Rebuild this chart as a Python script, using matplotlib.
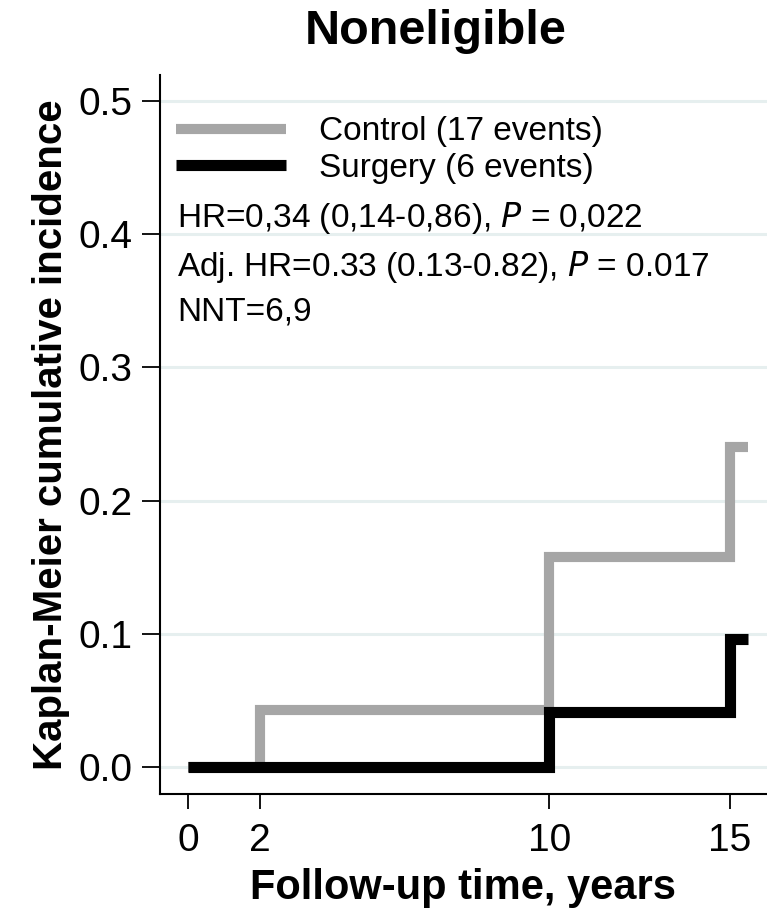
import numpy as np
import matplotlib
matplotlib.use("Agg")
import matplotlib.pyplot as plt

plt.rcParams['font.family'] = ['Liberation Sans', 'DejaVu Sans']

# step curves (time in years, cumulative incidence)
control_t = [0, 2, 10, 15, 15.5]
control_y = [0.0, 0.043, 0.158, 0.240, 0.240]
surgery_t = [0, 10, 15, 15.5]
surgery_y = [0.0, 0.041, 0.096, 0.096]

labels = ['Control (17 events)', 'Surgery (6 events)']
colors = ['#a6a6a6', '#000000']
xticks = [0, 2, 10, 15]
yticks = [0.0, 0.1, 0.2, 0.3, 0.4, 0.5]
stats = ['HR=0,34 (0,14-0,86), $\\it{P}$ = 0,022',
         'Adj. HR=0.33 (0.13-0.82), $\\it{P}$ = 0.017',
         'NNT=6,9']

fig = plt.figure(figsize=(7.67, 9.13), dpi=100)
ax = fig.add_axes([160 / 767, 1 - 794 / 913, 1 - 160 / 767, (794 - 75) / 913])

# light gridlines
for y in yticks:
    ax.axhline(y, color='#e6efef', lw=2.2, zorder=0)

ax.step(control_t, control_y, where='post', color=colors[0], lw=7.3,
        solid_joinstyle='miter', solid_capstyle='butt', label=labels[0], zorder=2)
ax.step(surgery_t, surgery_y, where='post', color=colors[1], lw=8,
        solid_joinstyle='miter', solid_capstyle='butt', label=labels[1], zorder=3)

ax.set_xlim(-0.775, 16.03)
ax.set_ylim(-0.0203, 0.5195)
ax.set_xticks(xticks)
ax.set_yticks(yticks)
ax.set_yticklabels(['%.1f' % v for v in yticks])
ax.tick_params(axis='y', length=13, width=1.3, pad=7, labelsize=28)
ax.tick_params(axis='x', length=11, width=1.3, pad=10, labelsize=28)
ax.spines['top'].set_visible(False)
ax.spines['right'].set_visible(False)
ax.spines['left'].set_linewidth(1.5)
ax.spines['bottom'].set_linewidth(1.5)

ax.set_xlabel('Follow-up time, years', fontsize=30, fontweight='bold', labelpad=6)
ax.set_ylabel('Kaplan-Meier cumulative incidence', fontsize=29, fontweight='bold', labelpad=6)

leg = ax.legend(loc='upper left', bbox_to_anchor=(-0.012, 0.975), frameon=False,
                fontsize=24, handlelength=3.3, handletextpad=1.0,
                borderaxespad=0.3, labelspacing=0.17)

ys = [218, 267, 312]
for s, yp in zip(stats, ys):
    fig.text(177 / 767, 1 - yp / 913, s, fontsize=24, va='center', ha='left')

fig.text(436 / 767, 1 - 32 / 913, 'Noneligible', fontsize=35, fontweight='bold',
         ha='center', va='center')

fig.savefig('out.png', dpi=100)
